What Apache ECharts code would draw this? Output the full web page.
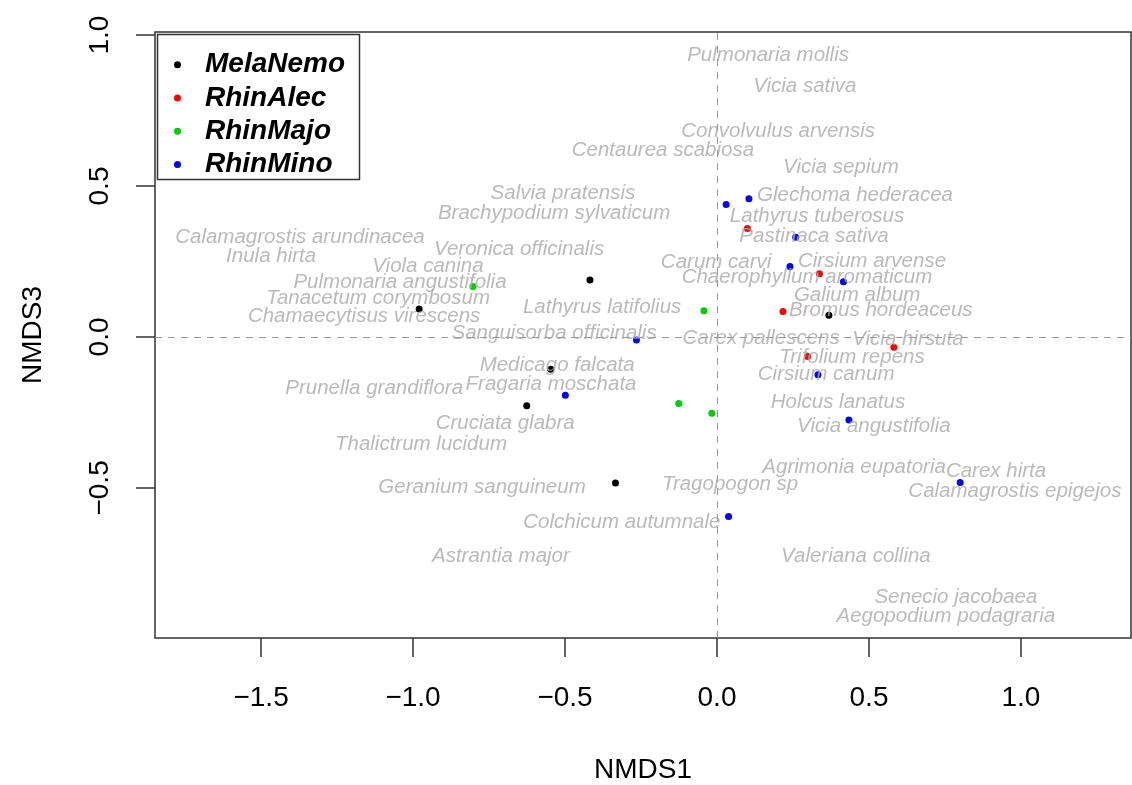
<!DOCTYPE html>
<html>
<head>
<meta charset="utf-8">
<script src="https://cdn.jsdelivr.net/npm/echarts@6/dist/echarts.min.js"></script>
<style>
    html, body { margin: 0; padding: 0; background: #fff; }
    #chart { width: 1132px; height: 785px; }
</style>
</head>
<body>
<div id="chart"></div>
<script>
// site scores per group, [NMDS1, NMDS3]
const melaNemo = [[-0.418, 0.189], [-0.980, 0.093], [-0.547, -0.107], [-0.626, -0.228], [-0.334, -0.484], [0.368, 0.072]];
const rhinAlec = [[0.100, 0.359], [0.337, 0.209], [0.217, 0.084], [0.582, -0.034], [0.298, -0.065]];
const rhinMajo = [[-0.803, 0.167], [-0.043, 0.087], [-0.126, -0.220], [-0.017, -0.253]];
const rhinMino = [[0.030, 0.439], [0.105, 0.458], [0.259, 0.330], [0.240, 0.233], [0.416, 0.183], [-0.265, -0.010],
    [-0.499, -0.193], [0.332, -0.125], [0.434, -0.275], [0.800, -0.482], [0.038, -0.595]];

// species scores
const speciesNames = ["Pulmonaria mollis", "Vicia sativa", "Convolvulus arvensis", "Centaurea scabiosa", "Vicia sepium",
    "Salvia pratensis", "Glechoma hederacea", "Brachypodium sylvaticum", "Lathyrus tuberosus", "Calamagrostis arundinacea",
    "Pastinaca sativa", "Veronica officinalis", "Inula hirta", "Viola canina", "Carum carvi", "Cirsium arvense",
    "Chaerophyllum aromaticum", "Pulmonaria angustifolia", "Tanacetum corymbosum", "Galium album", "Lathyrus latifolius",
    "Bromus hordeaceus", "Chamaecytisus virescens", "Sanguisorba officinalis", "Carex pallescens", "Vicia hirsuta",
    "Trifolium repens", "Medicago falcata", "Cirsium canum", "Prunella grandiflora", "Fragaria moschata", "Holcus lanatus",
    "Cruciata glabra", "Vicia angustifolia", "Thalictrum lucidum", "Agrimonia eupatoria", "Carex hirta",
    "Geranium sanguineum", "Tragopogon sp", "Calamagrostis epigejos", "Colchicum autumnale", "Astrantia major",
    "Valeriana collina", "Senecio jacobaea", "Aegopodium podagraria"];
const speciesX = [0.168, 0.289, 0.201, -0.178, 0.408, -0.507, 0.454, -0.536, 0.329, -1.372, 0.319, -0.651, -1.467, -0.951,
    -0.003, 0.510, 0.296, -1.043, -1.115, 0.461, -0.378, 0.539, -1.161, -0.536, 0.145, 0.628, 0.444, -0.526, 0.359, -1.128,
    -0.546, 0.398, -0.697, 0.516, -0.974, 0.451, 0.918, -0.773, 0.043, 0.980, -0.313, -0.711, 0.457, 0.786, 0.753];
const speciesY = [0.934, 0.831, 0.682, 0.619, 0.563, 0.477, 0.470, 0.411, 0.401, 0.331, 0.334, 0.291, 0.268, 0.235, 0.248,
    0.252, 0.199, 0.182, 0.129, 0.139, 0.099, 0.089, 0.070, 0.013, -0.003, -0.007, -0.066, -0.093, -0.123, -0.169, -0.156,
    -0.215, -0.285, -0.295, -0.354, -0.430, -0.444, -0.497, -0.487, -0.510, -0.613, -0.725, -0.725, -0.861, -0.924];

const tickValues = [-1.5, -1.0, -0.5, 0.0, 0.5, 1.0];
const yTickValues = [-0.5, 0.0, 0.5, 1.0];

const groupNames = ["MelaNemo", "RhinAlec", "RhinMajo", "RhinMino"];
const groupColors = ["#000000", "#ff0000", "#00cd00", "#0000ff"];
const groupData = [melaNemo, rhinAlec, rhinMajo, rhinMino];

const fmt = (v) => v.toFixed(1).replace("-", "\u2212");
const font = "'Liberation Sans', Arial, sans-serif";

let myChart = echarts.init(document.getElementById("chart"));

let series = [];
series.push({
    name: "species",
    type: "scatter",
    symbolSize: 1,
    itemStyle: { color: "rgba(0,0,0,0)" },
    silent: true,
    label: {
        show: true,
        position: "inside",
        formatter: (p) => p.data[2],
        color: "#a9a9a9",
        fontStyle: "italic",
        fontSize: 20.5,
        fontFamily: font
    },
    labelLayout: { hideOverlap: false },
    data: speciesNames.map((n, i) => [speciesX[i], speciesY[i], n]),
    markLine: {
        silent: true,
        symbol: "none",
        label: { show: false },
        lineStyle: { type: [7, 6], color: "#999999", width: 1 },
        data: [{ xAxis: 0 }, { yAxis: 0 }]
    }
});
groupNames.forEach((g, i) => {
    series.push({
        name: g,
        type: "scatter",
        symbolSize: 7,
        itemStyle: { color: groupColors[i], opacity: 1 },
        data: groupData[i]
    });
});

let option = {
    animation: false,
    textStyle: { fontFamily: font },
    grid: {
        left: 155, right: 1, top: 32, bottom: 147,
        outerBoundsMode: "none",
        containLabel: false,
        show: true,
        borderColor: "#333",
        borderWidth: 1.5
    },
    legend: {
        data: groupNames,
        orient: "vertical",
        left: 174,
        top: 48,
        padding: 0,
        itemGap: 0,
        icon: "circle",
        itemWidth: 7,
        itemHeight: 7,
        selectedMode: false,
        textStyle: {
            fontSize: 28,
            fontStyle: "italic",
            fontWeight: "bold",
            color: "#000",
            lineHeight: 33.3,
            padding: [0, 0, 0, 19]
        }
    },
    graphic: [{
        type: "rect",
        left: 155, top: 32,
        shape: { width: 202, height: 145 },
        style: { fill: "none", stroke: "#333", lineWidth: 1.5 },
        z: 1
    }],
    xAxis: {
        type: "value",
        min: -1.849,
        max: 1.362,
        name: "NMDS1",
        nameLocation: "middle",
        nameGap: 118,
        nameTextStyle: { fontSize: 28, color: "#000" },
        axisLine: { show: false, onZero: false },
        splitLine: { show: false },
        axisTick: { show: true, length: 19, customValues: tickValues, lineStyle: { color: "#333", width: 1.5 } },
        axisLabel: { customValues: tickValues, formatter: fmt, fontSize: 28, color: "#000", margin: 46 }
    },
    yAxis: {
        type: "value",
        min: -0.997,
        max: 1.010,
        name: "NMDS3",
        nameLocation: "middle",
        nameGap: 108,
        nameRotate: 90,
        nameTextStyle: { fontSize: 28, color: "#000" },
        axisLine: { show: false, onZero: false },
        splitLine: { show: false },
        axisTick: { show: true, length: 19, customValues: yTickValues, lineStyle: { color: "#333", width: 1.5 } },
        axisLabel: { customValues: yTickValues, formatter: fmt, fontSize: 28, color: "#000", rotate: 90, margin: 41 }
    },
    series: series
};
myChart.setOption(option);
</script>
</body>
</html>
